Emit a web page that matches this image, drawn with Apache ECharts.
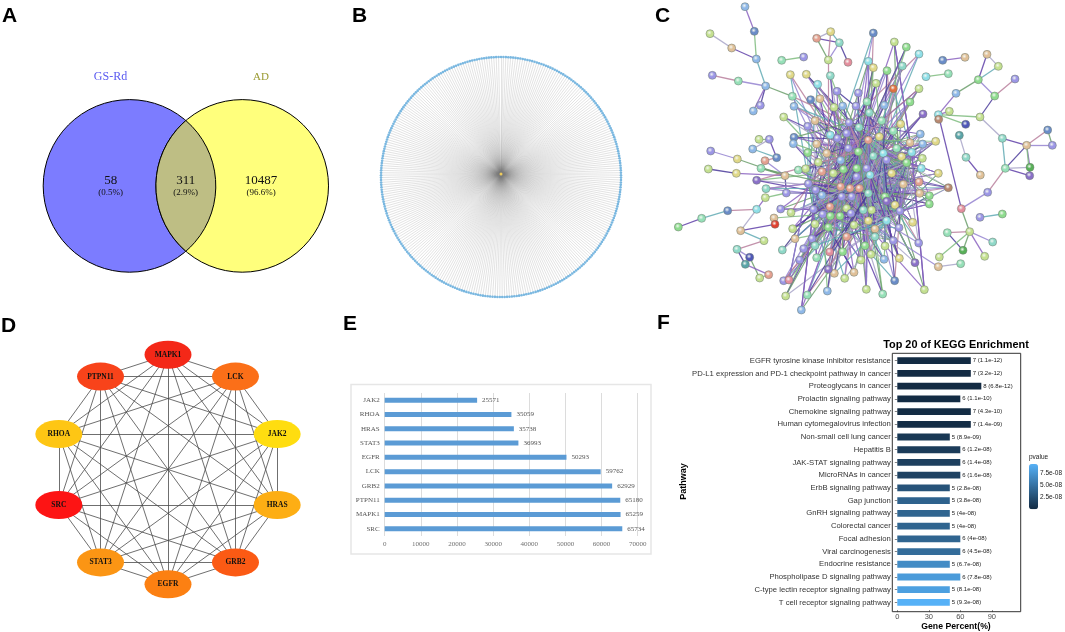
<!DOCTYPE html>
<html><head><meta charset="utf-8">
<style>html,body{margin:0;padding:0;background:#fff}#c{width:1065px;height:632px;filter:blur(0.4px)}</style>
<script src="https://cdn.jsdelivr.net/npm/echarts@6/dist/echarts.min.js"></script></head>
<body><div id="c"></div>
<script>
/* A: Venn */
const vennSets = ['GS-Rd','AD'];
const vennCounts = ['58','311','10487'];
const vennShares = ['(0.5%)','(2.9%)','(96.6%)'];
/* B: star network */
const starLeafCount = 311;
/* D: hub network */
const hubGenes = ['MAPK1','LCK','JAK2','HRAS','GRB2','EGFR','STAT3','SRC','RHOA','PTPN11'];
const hubColors = ['#f42818','#fb6f18','#ffdd10','#fdae14','#fb5a14','#fc8012','#fb9514','#fd1414','#fec614','#f8431a'];
/* E: degree bars */
const degGenes = ['SRC','MAPK1','PTPN11','GRB2','LCK','EGFR','STAT3','HRAS','RHOA','JAK2'];
const degValues = [65734,65259,65180,62929,59762,50293,36993,35738,35059,25571];
/* F: KEGG */
const keggPaths = ['EGFR tyrosine kinase inhibitor resistance','PD-L1 expression and PD-1 checkpoint pathway in cancer','Proteoglycans in cancer','Prolactin signaling pathway','Chemokine signaling pathway','Human cytomegalovirus infection','Non-small cell lung cancer','Hepatitis B','JAK-STAT signaling pathway','MicroRNAs in cancer','ErbB signaling pathway','Gap junction','GnRH signaling pathway','Colorectal cancer','Focal adhesion','Viral carcinogenesis','Endocrine resistance','Phospholipase D signaling pathway','C-type lectin receptor signaling pathway','T cell receptor signaling pathway'];
const keggCounts = [7,7,8,6,7,7,5,6,6,6,5,5,5,5,6,6,5,6,5,5];
const keggPercent = [70,70,80,60,70,70,50,60,60,60,50,50,50,50,60,60,50,60,50,50];
const keggPText = ['1.1e-12','3.2e-12','6.8e-12','1.1e-10','4.3e-10','1.4e-09','8.9e-09','1.2e-08','1.4e-08','1.6e-08','2.8e-08','3.8e-08','4e-08','4e-08','4e-08','4.5e-08','6.7e-08','7.8e-08','8.1e-08','9.3e-08'];
const keggP = keggPText.map(Number);

/* C: STRING network, node positions */
const netNodes = [[285,20,'b'],[313,94,'k'],[180,101,'l'],[245,144,'a'],[319,177,'b'],[187,226,'p'],[265,243,'m'],[347,258,'b'],[331,316,'p'],[310,333,'b'],
[395,181,'m'],[461,171,'p'],[500,115,'s'],[542,95,'y'],[568,128,'t'],[535,180,'l'],[594,187,'r'],[670,99,'k'],[655,184,'c'],[670,203,'y'],
[711,212,'g'],[733,126,'l'],[769,141,'g'],[807,162,'c'],[757,198,'t'],[678,250,'l'],[730,266,'o'],[807,266,'l'],[878,181,'k'],[945,172,'a'],
[1011,163,'a'],[1045,199,'l'],[985,239,'g'],[828,230,'c'],[895,221,'m'],[1095,237,'p'],[918,280,'b'],[1034,288,'g'],[990,351,'l'],[898,334,'l'],
[865,344,'c'],[866,358,'B'],[947,373,'n'],[928,406,'T'],[1057,415,'t'],[1130,436,'a'],[1193,390,'k'],[1207,436,'p'],[948,472,'t'],[1066,505,'m'],
[1140,502,'d'],[1139,527,'v'],[991,525,'a'],[1013,577,'p'],[934,626,'r'],[990,652,'p'],[1057,642,'g'],[892,698,'m'],[959,695,'l'],[1028,726,'t'],
[939,751,'d'],[1004,769,'l'],[868,771,'l'],[865,800,'a'],[932,791,'m'],[85,681,'g'],[155,655,'m'],[233,632,'k'],[320,628,'c'],[182,453,'p'],
[262,477,'y'],[175,507,'l'],[259,520,'y'],[320,541,'v'],[327,418,'l'],[358,418,'p'],[308,447,'b'],[380,473,'k'],[345,482,'s'],[333,505,'m'],
[405,527,'a'],[348,566,'t'],[346,593,'l'],[409,579,'p'],[392,627,'p'],[372,654,'a'],[375,673,'R'],[272,692,'a'],[342,722,'l'],[261,748,'t'],
[299,772,'n'],[286,793,'T'],[329,834,'l'],[356,824,'s'],[397,750,'t'],[423,638,'l'],[428,686,'l'],[435,716,'a'],[401,842,'p'],[417,840,'r'],
[407,888,'l'],[472,885,'m'],[454,930,'b'],[532,873,'b'],[584,835,'l'],[612,817,'a'],[553,820,'a'],[535,808,'v'],[649,868,'l'],[698,882,'m'],
[734,842,'k'],[823,869,'l'],[795,788,'v'],[806,729,'p'],[748,775,'y'],[702,778,'b'],[663,763,'l'],[633,780,'l'],[578,755,'g'],[539,756,'r'],
[500,773,'m'],[449,780,'p'],[461,746,'p'],[486,716,'p'],[495,737,'t'],[421,224,'y'],[469,223,'y'],[541,227,'t'],[503,253,'c'],[561,274,'p'],
[625,279,'p'],[427,289,'m'],[482,299,'k'],[510,296,'a'],[432,319,'b'],[552,322,'l'],[578,318,'b'],[618,318,'p'],[651,305,'m'],[703,316,'b'],
[780,306,'g'],[819,342,'v'],[401,351,'l'],[473,379,'p'],[432,412,'k'],[430,431,'b'],[473,458,'g'],[445,510,'m'],[467,506,'l'],
/* dense core starts here (index 149) */
[495,362,'a'],[597,368,'p'],[627,382,'t'],[695,362,'m'],[752,372,'y'],[658,338,'t'],[541,405,'c'],[562,415,'p'],[590,400,'p'],[655,420,'s'],
[688,410,'y'],[730,393,'m'],[780,428,'a'],[811,402,'b'],[818,432,'b'],[857,424,'y'],[500,432,'a'],[595,445,'p'],[625,455,'g'],[530,460,'a'],
[670,468,'t'],[700,460,'c'],[740,445,'m'],[785,457,'c'],[755,470,'y'],[572,481,'b'],[505,487,'l'],[620,505,'g'],[580,508,'g'],[650,505,'p'],
[710,480,'p'],[770,488,'g'],[817,475,'l'],[814,505,'c'],[516,515,'s'],[660,525,'c'],[725,520,'y'],[550,520,'l'],[865,520,'y'],[620,530,'p'],
[572,560,'s'],[600,565,'s'],[628,565,'s'],[475,551,'p'],[497,570,'p'],[760,553,'a'],[807,546,'s'],[809,580,'a'],[895,563,'B'],[838,587,'g'],
[838,612,'g'],[516,586,'b'],[575,590,'p'],[605,590,'p'],[655,580,'t'],[705,590,'g'],[490,628,'p'],[540,620,'s'],[710,604,'v'],[735,615,'y'],
[640,630,'t'],[665,630,'l'],[590,625,'l'],[518,643,'p'],[541,648,'g'],[570,648,'g'],[603,640,'p'],[750,633,'p'],[495,672,'l'],[535,682,'g'],
[612,675,'l'],[655,662,'y'],[710,662,'c'],[747,683,'p'],[788,667,'y'],[675,687,'a'],[590,710,'s'],[645,737,'g'],[675,710,'t'],[730,722,'p'],[705,738,'l']];
const netTints = {p:'#9c96e6',b:'#8fb8e8',t:'#8fd8c8',c:'#8fdfe8',g:'#8fdc8f',l:'#c4e090',y:'#e0d888',a:'#e0c098',s:'#e4a090',r:'#e48e9e',m:'#96e0b8',d:'#58b058',n:'#5058b8',o:'#e07040',R:'#e04030',v:'#8a70c8',B:'#b88870',k:'#6a8cc8',T:'#5aa4a8'};
/* outer links (1-based node numbers) */
const netLinks = [[1,2],[2,5],[3,4],[4,5],[5,8],[6,7],[7,8],[8,132],[8,9],[8,10],[11,12],[13,14],[13,15],[14,15],[14,16],[15,16],[13,16],[15,17],[30,29],[34,35],
[31,32],[31,33],[32,33],[36,38],[33,38],[33,37],[38,39],[37,41],[39,41],[39,45],[45,46],[45,50],[46,47],[46,48],[47,48],[46,50],[46,51],[46,52],[50,51],[50,52],[51,52],[50,54],[54,55],[55,59],
[41,42],[41,40],[41,43],[44,49],[49,53],[56,57],[58,59],[59,60],[59,61],[58,61],[59,62],[59,63],[64,65],[66,67],[67,68],[68,69],[70,71],[71,81],[72,73],[73,81],[75,76],[76,77],[76,78],[77,78],[78,79],[79,81],[80,81],[81,84],[69,83],[83,84],[69,88],[87,88],[89,88],[90,89],[90,91],[91,93],[90,92],[92,94],[93,94],[86,87],[55,41]];
/* nodes that feed into the dense core; its inner tangle cannot be traced, so it is spread over these hubs */
const netHubs = [150,158,167,170,172,178,180,184,190,191,192,201,203,205,212,216,218,221];
const netLinkColors = ['#8a62c0','#7fbc7f','#a8a4c8','#5f3fa8','#62aab4','#b97f9c','#9482d0','#6c9f6c','#4a3a9a'];

const LATO='"Liberation Sans"', SERIF='"Liberation Serif"';

function letter(t,l,tp){return {text:t,left:l,top:tp,padding:0,textStyle:{fontFamily:LATO,fontWeight:'bold',fontSize:21,color:'#000'}};}

const netData = netNodes.map((n,i)=>{const c=netTints[n[2]];return {name:'n'+i,value:[n[0],n[1]],itemStyle:{color:{type:'radial',x:0.42,y:0.38,r:0.62,colorStops:[{offset:0,color:'#f4f8f2'},{offset:0.45,color:c},{offset:1,color:c}]},borderColor:'#6e7a70',borderWidth:0.5}};});
const netEdges = [];
function addEdge(a,b,w){netEdges.push({source:a,target:b,lineStyle:{color:netLinkColors[netEdges.length%netLinkColors.length],width:w}});}
netLinks.forEach(l=>addEdge(l[0]-1,l[1]-1,1.3));
const outerOnly = new Set(netLinks.flat().map(v=>v-1));
netNodes.forEach((n,i)=>{
  if(i>=149){ for(let k=0;k<9;k++){const h=netHubs[(i*(k+3)+k*5)%netHubs.length]; if(h!==i) addEdge(i,h,0.9);} }
  else if(!outerOnly.has(i) || (i>=125 && i<149)){ for(let k=0;k<3;k++){ addEdge(i,netHubs[(i*(2*k+5)+k)%netHubs.length],1.2); } }
});
[16,19,20,21,22,23,25,26,27,28,64,80,84,85,86,96,97,98,99,100,101,102,103,104,105,106,107,108,109,110,111,112,113,114,115,116,117,118,119,120,121,122,123,124,125,74,82].forEach(id=>{
  addEdge(id-1,netHubs[id%netHubs.length],1.2);
});

const starNodes=[{name:'hub',value:[0.025,0],symbolSize:3,itemStyle:{color:'#eecb5c'},z:5}];
for(let i=0;i<starLeafCount;i++) starNodes.push({name:'g'+i,value:[1,i],symbolSize:2.6,itemStyle:{color:'#79b7e0'}});
const starEdges=[];
for(let i=1;i<=starLeafCount;i++) starEdges.push({source:0,target:i});

const hubNodes = hubGenes.map((g,i)=>({name:g,value:[1,i],itemStyle:{color:hubColors[i]}}));
const hubEdges=[];
for(let i=0;i<hubGenes.length;i++)for(let j=i+1;j<hubGenes.length;j++)hubEdges.push({source:i,target:j});

const ELL='path://M0 -1A1 1 0 1 1 0 1A1 1 0 1 1 0 -1Z';

function vennRender(params,api){
  const c0=api.coord([0,0]), c1=api.coord([1.306,0]);
  const r=api.size([1,0])[0];
  const ln={stroke:'#000',lineWidth:1};
  const d=(c1[0]-c0[0])/2, h=Math.sqrt(r*r-d*d), mx=(c0[0]+c1[0])/2, cy=c0[1];
  const tx=[api.coord([-0.218,0])[0],api.coord([0.651,0])[0],api.coord([1.524,0])[0]];
  return {type:'group',children:[
    {type:'circle',shape:{cx:c0[0],cy:c0[1],r:r},style:{fill:'#7c7cff',...ln}},
    {type:'circle',shape:{cx:c1[0],cy:c1[1],r:r},style:{fill:'#ffff7c',...ln}},
    {type:'path',shape:{pathData:`M${mx} ${cy-h}A${r} ${r} 0 0 1 ${mx} ${cy+h}A${r} ${r} 0 0 1 ${mx} ${cy-h}Z`},style:{fill:'#bebe84',...ln}},
    ...vennCounts.map((t,i)=>({type:'text',style:{text:t,x:tx[i],y:cy-5.5,align:'center',verticalAlign:'middle',font:'13px '+SERIF,fill:'#111'}})),
    ...vennShares.map((t,i)=>({type:'text',style:{text:t,x:tx[i],y:cy+6.5,align:'center',verticalAlign:'middle',font:'9px '+SERIF,fill:'#111'}})),
    {type:'text',style:{text:vennSets[0],x:110.5,y:77,align:'center',verticalAlign:'middle',font:'12px '+SERIF,fill:'#5a5af0'}},
    {type:'text',style:{text:vennSets[1],x:261,y:77,align:'center',verticalAlign:'middle',font:'11px '+SERIF,fill:'#9a9a30'}}
  ]};
}

const plain=v=>String(v);
const option={
  animation:false,backgroundColor:'#fff',
  title:[letter('A',2,6),letter('B',352,6),letter('C',655,6),letter('D',1,316),letter('E',343,314),letter('F',657,313),
    {text:'Top 20 of KEGG Enrichment',left:956,top:339.5,textAlign:'center',padding:0,textStyle:{fontFamily:LATO,fontWeight:'bold',fontSize:10.9,color:'#000'}},
    {text:'pvalue',left:1029,top:454,padding:0,textStyle:{fontFamily:LATO,fontWeight:'normal',fontSize:6.5,color:'#222'}}],
  grid:[
    {left:43.2,top:99.5,width:285.3,height:172.8},
    {left:650,top:0,width:415,height:320},
    {left:384.7,top:393,width:253,height:143},
    {left:897.3,top:354.3,width:123.4,height:256},
    {left:1029,top:464,width:9,height:45.3}
  ],
  xAxis:[
    {gridIndex:0,type:'value',min:-1,max:2.306,show:false},
    {gridIndex:1,type:'value',min:0,max:1245,show:false},
    {gridIndex:2,type:'value',min:0,max:70000,interval:10000,axisLine:{show:false},axisTick:{show:false},
      splitLine:{show:true,lineStyle:{color:'#dcdcdc',width:1}},
      axisLabel:{fontFamily:SERIF,fontSize:7,color:'#707070',margin:5,formatter:plain}},
    {gridIndex:3,type:'value',min:0,max:117.5,interval:30,splitLine:{show:false},
      axisLine:{show:false,onZero:false},axisTick:{show:true,length:2,lineStyle:{color:'#333',width:.6},customValues:[0,30,60,90]},offset:1.3,
      axisLabel:{fontFamily:LATO,fontSize:7.5,color:'#4d4d4d',margin:3,formatter:v=>v>100?'':String(v)},
      name:'Gene Percent(%)',nameLocation:'middle',nameGap:11,nameTextStyle:{fontFamily:LATO,fontWeight:'bold',fontSize:8.7,color:'#000',padding:[0,0,0,-6]}},
    {gridIndex:4,type:'value',show:false,min:0,max:1}
  ],
  yAxis:[
    {gridIndex:0,type:'value',min:-1,max:1,show:false,inverse:true},
    {gridIndex:1,type:'value',min:0,max:960,show:false,inverse:true},
    {gridIndex:2,type:'category',data:degGenes,axisLine:{show:false},axisTick:{show:false},
      axisLabel:{fontFamily:SERIF,fontSize:7,color:'#555',margin:5}},
    {gridIndex:3,type:'category',inverse:true,data:keggPaths,offset:5,axisLine:{show:false},
      axisTick:{show:true,alignWithLabel:true,length:2.5,lineStyle:{color:'#333',width:.6}},
      axisLabel:{fontFamily:LATO,fontSize:7.7,color:'#333',margin:1.5,interval:0},
      name:'Pathway',nameLocation:'middle',nameGap:203,nameTextStyle:{fontFamily:LATO,fontWeight:'bold',fontSize:9,color:'#000'}},
    {gridIndex:4,type:'value',position:'right',min:0,max:9.3e-8,interval:2.5e-8,splitLine:{show:false},
      axisLine:{show:false},axisTick:{show:false},
      axisLabel:{fontFamily:LATO,fontSize:6.5,color:'#222',margin:4,formatter:v=>(v===0||v>9e-8)?'':v.toExponential(1).replace('e-8','e-08')}}
  ],
  polar:[{center:[501,177],radius:[0,120]},{center:[168,469.5],radius:[0,114.8]}],
  radiusAxis:[{polarIndex:0,type:'value',min:0,max:1,show:false},{polarIndex:1,type:'value',min:0,max:1,show:false}],
  angleAxis:[{polarIndex:0,type:'value',min:0,max:starLeafCount,startAngle:90,show:false},{polarIndex:1,type:'value',min:0,max:hubGenes.length,startAngle:90,show:false}],
  visualMap:[{type:'continuous',seriesIndex:5,dimension:2,min:Math.min(...keggP),max:Math.max(...keggP),left:1029,top:464,itemWidth:9,itemHeight:45.3,padding:0,text:null,calculable:false,showLabel:false,inRange:{color:['#132B43','#56B1F7']}}],
  graphic:[
    {type:'rect',shape:{x:351,y:384.5,width:300,height:169.5},style:{fill:'none',stroke:'#e6e6e6',lineWidth:1.5},z:-1},
    {type:'rect',shape:{x:892.3,y:353.3,width:128.4,height:258.4},style:{fill:'none',stroke:'#333',lineWidth:1},z:10}
  ],
  series:[
    {type:'custom',xAxisIndex:0,yAxisIndex:0,data:[[0]],renderItem:vennRender,silent:true,clip:false},
    {type:'graph',coordinateSystem:'polar',polarIndex:0,silent:true,data:starNodes,edges:starEdges,symbol:'circle',lineStyle:{color:'#777',width:0.55,opacity:0.38}},
    {type:'graph',coordinateSystem:'cartesian2d',xAxisIndex:1,yAxisIndex:1,silent:true,data:netData,edges:netEdges,symbol:'circle',symbolSize:8,lineStyle:{width:1,opacity:0.85}},
    {type:'graph',coordinateSystem:'polar',polarIndex:1,silent:true,data:hubNodes,edges:hubEdges,symbol:ELL,symbolKeepAspect:false,symbolSize:[47,28],
      lineStyle:{color:'#4a4a4a',width:0.8,opacity:1},
      label:{show:true,position:'inside',fontFamily:SERIF,fontWeight:'bold',fontSize:7.5,color:'#111'}},
    {type:'bar',xAxisIndex:2,yAxisIndex:2,data:degValues,barWidth:5,itemStyle:{color:'#5b9bd5'},
      label:{show:true,position:'right',distance:5,fontFamily:SERIF,fontSize:7,color:'#555'},silent:true},
    {type:'bar',xAxisIndex:3,yAxisIndex:3,barWidth:6.8,silent:true,encode:{x:0,y:1},
      data:keggPercent.map((v,i)=>[v,i,keggP[i]]),
      label:{show:true,position:'right',distance:2,fontFamily:LATO,fontSize:6,color:'#222',formatter:p=>keggCounts[p.dataIndex]+' ('+keggPText[p.dataIndex]+')'}},
    {type:'scatter',xAxisIndex:4,yAxisIndex:4,data:[],silent:true}
  ]
};
echarts.init(document.getElementById('c'),null,{renderer:'canvas'}).setOption(option);
</script></body></html>
